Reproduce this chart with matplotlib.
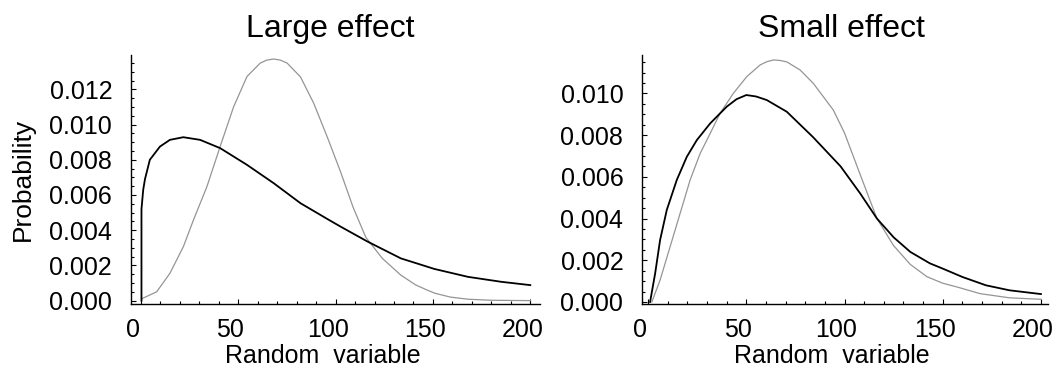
import matplotlib
matplotlib.use('Agg')
from matplotlib import pyplot as plt
from matplotlib import ticker
from matplotlib import transforms as mtransforms

plt.rcParams['font.family'] = ['Liberation Sans', 'DejaVu Sans']

# large effect: heavy-tailed (black) vs. peaked (grey) density
large_black_x = [0.3, 0.3, 1.2, 2.1, 4.6, 9.8, 14.9, 21.8, 30.4, 40.7, 54.5, 68.2,
                 82, 95.7, 102.6, 116.3, 133.5, 150.7, 168, 185, 200]
large_black_y = [0.0, 0.0052, 0.0063, 0.0069, 0.0080, 0.00875, 0.00913, 0.00928,
                 0.00913, 0.00866, 0.00771, 0.00667, 0.00553, 0.00464, 0.00420,
                 0.00336, 0.0024, 0.0018, 0.00135, 0.00107, 0.00088]
large_grey_x = [0.3, 8.1, 14.9, 21.8, 27, 33.9, 40.7, 47.6, 54.5, 61.3, 64.7, 68.2,
                71.6, 75.1, 82, 88.8, 95.7, 102.6, 109, 115.5, 124, 133.5, 141, 147,
                151, 159, 168, 180, 200]
large_grey_y = [0.0001, 0.0005, 0.00155, 0.00306, 0.00458, 0.00647, 0.00875, 0.0110,
                0.01273, 0.01349, 0.01366, 0.01372, 0.01366, 0.01349, 0.0127, 0.0112,
                0.0093, 0.0073, 0.0053, 0.0036, 0.0024, 0.00145, 0.0009, 0.0006,
                0.00042, 0.0002, 0.00008, 0.00002, 0.0]

# small effect
small_black_x = [1, 3.6, 6.1, 9.5, 14.6, 19.7, 24.8, 31.6, 40, 45, 50, 55, 60.4, 70.6,
                 84, 98, 108, 116.5, 125, 133.5, 143.5, 150, 160, 172, 184, 200]
small_black_y = [0.0, 0.00138, 0.00297, 0.00441, 0.00585, 0.00696, 0.00776, 0.00856,
                 0.00936, 0.00972, 0.00992, 0.00985, 0.00968, 0.00912, 0.0079, 0.0065,
                 0.0052, 0.0040, 0.0031, 0.0024, 0.00185, 0.0016, 0.0012, 0.0008,
                 0.00056, 0.00038]
small_grey_x = [1.9, 6.1, 11.2, 16.3, 21.4, 26.5, 31.6, 36.6, 43.4, 50.2, 57, 60.5,
                63.8, 67, 70.6, 77.4, 84.1, 94.3, 100, 108, 116.5, 125, 133.5, 142,
                150, 158, 169, 184, 200]
small_grey_y = [0.0, 0.00105, 0.00265, 0.00425, 0.00585, 0.00712, 0.00808, 0.00904,
                0.0100, 0.0108, 0.01136, 0.01152, 0.0116, 0.01158, 0.01151, 0.01112,
                0.01048, 0.0092, 0.0081, 0.0061, 0.0040, 0.0027, 0.0018, 0.00121,
                0.0009, 0.0007, 0.0004, 0.0002, 0.00013]

titles = ['Large effect', 'Small effect']
xlabel = 'Random  variable'
ylabel = 'Probability'

fig = plt.figure(figsize=(10.57, 3.85), dpi=100)
ax1 = fig.add_axes([0.1239, 0.2091, 0.3870, 0.6481])
ax2 = fig.add_axes([0.6074, 0.2091, 0.3841, 0.6481])

panels = [
    (ax1, large_black_x, large_black_y, large_grey_x, large_grey_y, (-5.1, 205), (-0.00022, 0.01395), 0.487, 0.469),
    (ax2, small_black_x, small_black_y, small_grey_x, small_grey_y, (-3.1, 203.6), (-0.00012, 0.01184), 0.49, 0.468),
]

# tick labels sit a little left of their ticks
offset = mtransforms.ScaledTranslation(-0.08, 0, fig.dpi_scale_trans)

for i, (ax, bx, by, gx, gy, xl, yl, tx, lx) in enumerate(panels):
    ax.plot(gx, gy, color='#959595', lw=0.9)
    ax.plot(bx, by, color='black', lw=1.3)
    ax.set_xlim(*xl)
    ax.set_ylim(*yl)
    for s in ['top', 'right']:
        ax.spines[s].set_visible(False)
    for s in ['left', 'bottom']:
        ax.spines[s].set_linewidth(1.0)
    ax.xaxis.set_major_locator(ticker.MultipleLocator(50))
    ax.xaxis.set_minor_locator(ticker.MultipleLocator(10))
    ax.yaxis.set_major_locator(ticker.MultipleLocator(0.002))
    ax.yaxis.set_minor_locator(ticker.MultipleLocator(0.0005))
    ax.yaxis.set_major_formatter(ticker.StrMethodFormatter('{x:.3f}'))
    ax.tick_params(which='both', direction='in', width=0.8, labelsize=18)
    ax.tick_params(which='major', length=3.6)
    ax.tick_params(which='minor', length=2.2)
    ax.tick_params(axis='y', pad=13.5)
    ax.tick_params(axis='x', pad=10)
    ax.text(tx, 1 + 18 / 249.5, titles[i], transform=ax.transAxes,
            ha='center', va='baseline', fontsize=23)
    ax.text(lx, -0.2345, xlabel, transform=ax.transAxes,
            ha='center', va='baseline', fontsize=18)
    for lbl in ax.get_xticklabels():
        lbl.set_transform(lbl.get_transform() + offset)

fig.text(23 / 1057, 1 - 179 / 385, ylabel, rotation=90, ha='center', va='center',
         fontsize=19)

plt.savefig('out.png', dpi=100)
